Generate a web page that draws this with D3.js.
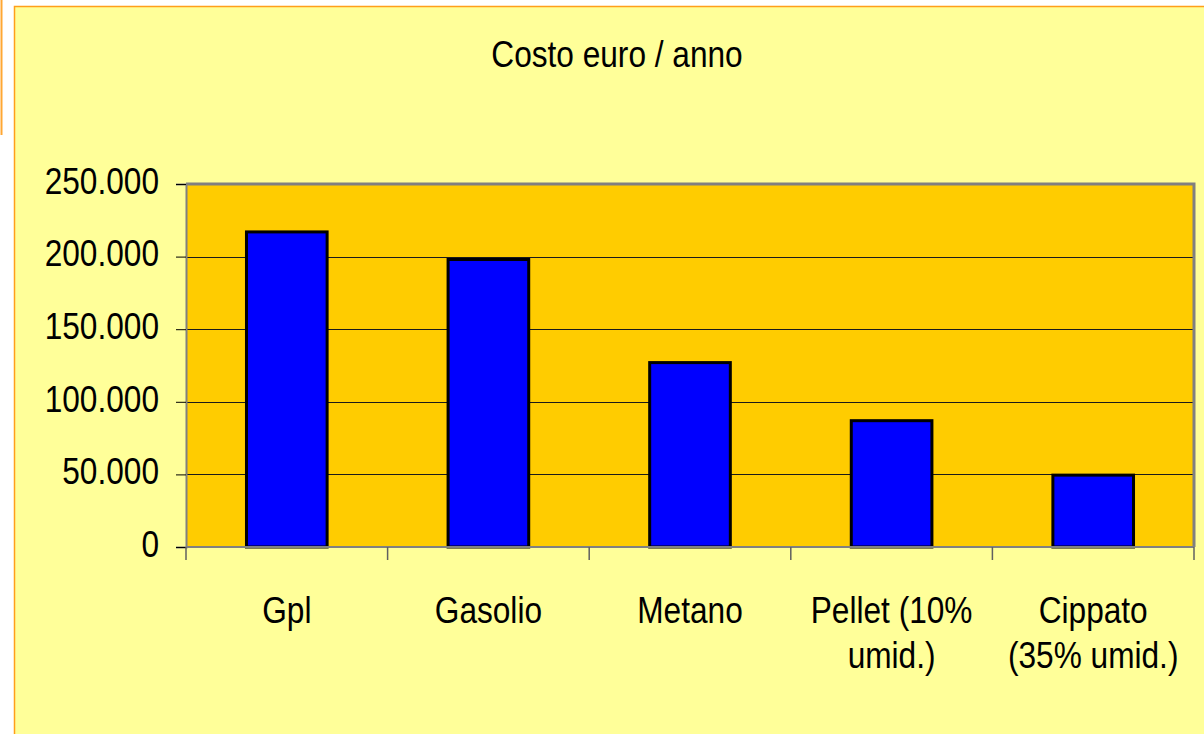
<!DOCTYPE html>
<html>
<head>
<meta charset="utf-8">
<script src="https://cdn.jsdelivr.net/npm/d3@7"></script>
<style>
html,body{margin:0;padding:0;background:#fff;}
svg{display:block;}
text{font-family:"Liberation Sans",Arial,sans-serif;fill:#000;}
</style>
</head>
<body>
<script>
// data
let categories=[["Gpl"],["Gasolio"],["Metano"],["Pellet (10%","umid.)"],["Cippato","(35% umid.)"]];
let costs=[217000,198000,127000,87000,49500];
let yTicks=[0,50000,100000,150000,200000,250000];
let title="Costo euro / anno";

let W=1204,H=734;
let sx=0.855; // narrow look
let fs="37px";
let svg=d3.select("body").append("svg").attr("width",W).attr("height",H);

// page strip + chart area
svg.append("rect").attr("x",0).attr("y",0).attr("width",W).attr("height",H).attr("fill","#fff");
svg.append("line").attr("x1",1.5).attr("x2",1.5).attr("y1",0).attr("y2",135).attr("stroke","#ffa733").attr("stroke-width",2);
svg.append("rect").attr("x",14.5).attr("y",6.5).attr("width",W).attr("height",H).attr("fill","#ffff99").attr("stroke","#ff9f1a").attr("stroke-width",1.5);

let m={l:186,r:1194,t:184,b:547};

let x=d3.scaleBand().domain(d3.range(categories.length)).range([m.l,m.r]).paddingInner(0.6).paddingOuter(0.3);
let xb=d3.scaleBand().domain(d3.range(categories.length)).range([m.l,m.r]);
let y=d3.scaleLinear().domain([0,250000]).range([m.b,m.t]);

// plot area
svg.append("rect").attr("x",m.l).attr("y",m.t).attr("width",m.r-m.l).attr("height",m.b-m.t).attr("fill","#ffcc00");

// gridlines
svg.append("g").selectAll("line").data(yTicks.slice(1,-1)).enter().append("line")
  .attr("x1",m.l).attr("x2",m.r).attr("y1",d=>Math.round(y(d))+0.5).attr("y2",d=>Math.round(y(d))+0.5)
  .attr("stroke","#1a1a1a").attr("stroke-width",1);

// top and right frame
svg.append("path").attr("d",`M${m.l},${m.t}H${m.r}V${m.b}`).attr("fill","none").attr("stroke","#808080").attr("stroke-width",3);

// bars
svg.append("g").selectAll("rect").data(costs).enter().append("rect")
  .attr("x",(d,i)=>x(i)).attr("width",x.bandwidth())
  .attr("y",d=>y(d)).attr("height",d=>y(0)-y(d))
  .attr("fill","#0000ff").attr("stroke","#000").attr("stroke-width",3);

// y axis
let yAxis=d3.axisLeft(y).tickValues(yTicks).tickSize(10).tickPadding(17)
  .tickFormat(d=>d3.format(",")(d).replace(/,/g,"."));
let gy=svg.append("g").attr("transform",`translate(${m.l},0)`).call(yAxis);
gy.select(".domain").attr("stroke","#808080").attr("stroke-width",2);
gy.selectAll(".tick line").attr("stroke","#000");
gy.selectAll(".tick text").style("font-size",fs).attr("dy","0.25em")
  .attr("x",-27/sx).attr("transform",`scale(${sx},1)`);

// x axis: ticks on category boundaries
let bounds=d3.range(categories.length+1).map(i=>i<categories.length?xb(i):m.r);
svg.append("line").attr("x1",m.l).attr("x2",m.r).attr("y1",m.b).attr("y2",m.b).attr("stroke","#808080").attr("stroke-width",2);
svg.append("g").selectAll("line").data(bounds).enter().append("line")
  .attr("x1",d=>d).attr("x2",d=>d).attr("y1",m.b).attr("y2",m.b+13)
  .attr("stroke","#606060").attr("stroke-width",1.5);

// x labels
let xl=svg.append("g").selectAll("text").data(categories).enter().append("text")
  .attr("text-anchor","middle").style("font-size",fs)
  .attr("transform",(d,i)=>`translate(${xb(i)+xb.bandwidth()/2},623) scale(${sx},1)`);
xl.selectAll("tspan").data(d=>d).enter().append("tspan")
  .attr("x",0).attr("y",(d,i)=>i*45).text(d=>d);

// title
svg.append("text").attr("text-anchor","middle").style("font-size",fs)
  .attr("transform",`translate(617,67) scale(${sx},1)`).text(title);
</script>
</body>
</html>
